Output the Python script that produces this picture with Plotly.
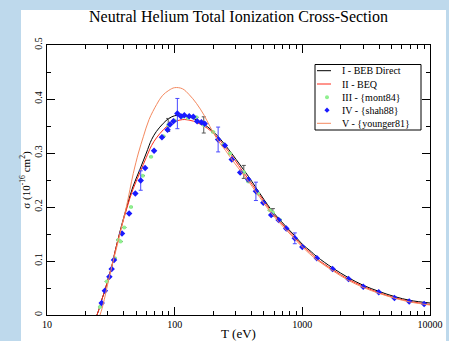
import plotly.graph_objects as go

# ---------------- data ----------------
T_beb = [24.6, 25.5, 27, 28.4, 30, 32, 34.1, 38, 42.5, 47, 53.5, 60, 66, 72, 81.5, 90, 100, 110, 120,
         140, 160, 180, 200, 220, 250, 280, 330, 380, 430, 500, 570, 650, 750, 870, 1000, 1150,
         1300, 1730, 2300, 3000, 4000, 5300, 7000, 10000]
sig_beb = [0.0, 0.01, 0.03, 0.045, 0.066, 0.088, 0.117, 0.162, 0.203, 0.237, 0.27, 0.30, 0.325, 0.34,
           0.355, 0.364, 0.369, 0.370, 0.369, 0.364, 0.357, 0.349, 0.340, 0.330, 0.314, 0.299, 0.276,
           0.256, 0.237, 0.214, 0.195, 0.179, 0.163, 0.147, 0.131, 0.119, 0.108, 0.087, 0.069, 0.055,
           0.0435, 0.034, 0.027, 0.0222]

T_beq = T_beb
sig_beq = [0.0, 0.01, 0.03, 0.045, 0.066, 0.088, 0.117, 0.160, 0.200, 0.232, 0.264, 0.292, 0.314, 0.328,
           0.343, 0.352, 0.358, 0.361, 0.362, 0.359, 0.353, 0.346, 0.337, 0.327, 0.310, 0.295, 0.271,
           0.251, 0.233, 0.211, 0.192, 0.176, 0.160, 0.144, 0.128, 0.116, 0.104, 0.084, 0.066, 0.053,
           0.041, 0.032, 0.025, 0.0195]

T_you = [26, 27, 28.5, 30.2, 33, 36, 39, 42.1, 47.4, 52, 56.8, 63, 72.3, 80, 90, 100, 115, 130, 148,
         170, 189, 220, 250, 271, 330, 380, 430, 500, 570, 650, 750, 870, 1000, 1300, 1730, 2300,
         3000, 4000, 5300, 7000, 10000]
sig_you = [0.0, 0.012, 0.035, 0.062, 0.10, 0.135, 0.17, 0.203, 0.262, 0.300, 0.330, 0.362, 0.390, 0.406,
           0.416, 0.421, 0.419, 0.408, 0.392, 0.370, 0.349, 0.322, 0.305, 0.293, 0.266, 0.247, 0.229,
           0.207, 0.189, 0.173, 0.157, 0.141, 0.126, 0.102, 0.082, 0.064, 0.051, 0.040, 0.031,
           0.024, 0.0185]

T_mont = [26, 29.4, 34, 36.2, 37.7, 40.3, 45.5, 56.2, 65.3, 81.5, 89, 100, 115, 127, 148, 169, 200,
          240, 271, 348, 377, 450, 556, 588, 667]
sig_mont = [0.015, 0.062, 0.105, 0.139, 0.136, 0.162, 0.200, 0.258, 0.293, 0.331, 0.352, 0.360, 0.367,
            0.365, 0.366, 0.352, 0.339, 0.315, 0.299, 0.265, 0.247, 0.225, 0.194, 0.190, 0.176]
err_mont = [0, 0, 0, 0, 0, 0, 0, 0, 0, 0, 0.012, 0, 0, 0, 0, 0.015, 0,
            0, 0, 0.012, 0, 0, 0, 0.007, 0]

T_shah = [26.8, 28.4, 30.8, 32.1, 33.5, 38.7, 44.0, 49.2, 54.2, 58.7, 69, 79.5, 88, 91.8, 97.8, 105,
          112, 119, 130, 140, 150, 162, 172, 219, 247, 280, 326, 377, 433, 495, 570, 652, 748, 873,
          1000, 1300, 1725, 2300, 3000, 3970, 5265, 6870, 8990]
sig_shah = [0.022, 0.045, 0.071, 0.085, 0.102, 0.151, 0.188, 0.225, 0.249, 0.272, 0.304, 0.329, 0.343,
            0.353, 0.359, 0.373, 0.368, 0.370, 0.368, 0.367, 0.359, 0.357, 0.354, 0.325, 0.314, 0.288,
            0.264, 0.251, 0.229, 0.208, 0.185, 0.176, 0.160, 0.142, 0.126, 0.105, 0.085, 0.0666,
            0.0525, 0.042, 0.0315, 0.025, 0.0203]
err_shah = [0, 0, 0, 0, 0, 0, 0, 0, 0.018, 0, 0, 0, 0, 0, 0, 0.028, 0, 0, 0, 0, 0, 0, 0, 0.023, 0,
            0, 0, 0, 0.017, 0, 0, 0, 0, 0.010, 0, 0, 0, 0, 0, 0, 0, 0, 0]

series_names = ["I - BEB Direct", "II - BEQ", "III - {mont84}", "IV - {shah88}", "V - {younger81}"]

x_ticks = [10, 100, 1000, 10000]
x_ticktext = ["10", "100", "1000", "10000"]
y_ticks = [0, 0.1, 0.2, 0.3, 0.4, 0.5]
y_ticktext = ["0", "0.1", "0.2", "0.3", "0.4", "0.5"]

SERIF = "Liberation Serif, Times New Roman, serif"
C_BEB, C_BEQ, C_MONT, C_SHAH, C_YOU = "black", "#ff2a1a", "#8ff08f", "#1a1aff", "#f4895f"

# plot-area geometry in pixels (for the hand-drawn legend box and the backdrop panel)
L, R, T, B = 47, 19, 45, 26
W, H = 449, 341
PW, PH = W - L - R, H - T - B


def px2paper_x(px):
    return (px - L) / PW


def px2paper_y(py):
    return (H - B - py) / PH


fig = go.Figure()

fig.add_trace(go.Scatter(x=T_beb, y=sig_beb, mode="lines", name=series_names[0],
                         line=dict(color=C_BEB, width=1), line_shape="spline"))
fig.add_trace(go.Scatter(x=T_beq, y=sig_beq, mode="lines", name=series_names[1],
                         line=dict(color=C_BEQ, width=1), line_shape="spline"))
fig.add_trace(go.Scatter(x=T_mont, y=sig_mont, mode="markers", name=series_names[2],
                         marker=dict(symbol="circle", size=4, color=C_MONT),
                         error_y=dict(type="data", array=err_mont, color="#555555",
                                      thickness=1, width=2)))
fig.add_trace(go.Scatter(x=T_shah, y=sig_shah, mode="markers", name=series_names[3],
                         marker=dict(symbol="diamond", size=5, color=C_SHAH),
                         error_y=dict(type="data", array=err_shah, color="#4a4aff",
                                      thickness=1, width=2)))
fig.add_trace(go.Scatter(x=T_you, y=sig_you, mode="lines", name=series_names[4],
                         line=dict(color=C_YOU, width=1), line_shape="spline"))

# ---- compact legend (drawn with shapes + annotations, like the reference) ----
shapes = [dict(type="rect", xref="paper", yref="paper",
               x0=px2paper_x(21), x1=px2paper_x(446),
               y0=px2paper_y(345), y1=px2paper_y(10),
               fillcolor="white", line=dict(width=0), layer="below"),
          dict(type="rect", xref="paper", yref="paper",
               x0=px2paper_x(315), x1=px2paper_x(421),
               y0=px2paper_y(130), y1=px2paper_y(64.5),
               fillcolor="white", line=dict(color="black", width=1))]
annotations = []
row_y = [70.7, 84, 97.2, 110.2, 123.3]
kinds = ["line", "line", "circle", "diamond", "line"]
cols = [C_BEB, C_BEQ, C_MONT, C_SHAH, C_YOU]
for name, yy, kind, col in zip(series_names, row_y, kinds, cols):
    if kind == "line":
        shapes.append(dict(type="line", xref="paper", yref="paper",
                           x0=px2paper_x(317), x1=px2paper_x(331),
                           y0=px2paper_y(yy), y1=px2paper_y(yy),
                           line=dict(color=col, width=1)))
    elif kind == "circle":
        shapes.append(dict(type="circle", xref="paper", yref="paper",
                           x0=px2paper_x(325), x1=px2paper_x(329),
                           y0=px2paper_y(yy + 2), y1=px2paper_y(yy - 2),
                           fillcolor=col, line=dict(width=0)))
    else:
        cx, cy, d = 327, yy, 2.6
        path = "M {} {} L {} {} L {} {} L {} {} Z".format(
            px2paper_x(cx), px2paper_y(cy - d), px2paper_x(cx + d), px2paper_y(cy),
            px2paper_x(cx), px2paper_y(cy + d), px2paper_x(cx - d), px2paper_y(cy))
        shapes.append(dict(type="path", xref="paper", yref="paper", path=path,
                           fillcolor=col, line=dict(width=0)))
    annotations.append(dict(text=name, xref="paper", yref="paper",
                            x=px2paper_x(340), y=px2paper_y(yy),
                            xanchor="left", yanchor="middle", showarrow=False,
                            font=dict(family=SERIF, size=10, color="black")))

fig.update_layout(
    width=W, height=H,
    margin=dict(l=L, r=R, t=T, b=B, autoexpand=False),
    paper_bgcolor="#bed9ec",
    plot_bgcolor="white",
    font=dict(family=SERIF, color="black", size=10),
    title=dict(text="Neutral Helium Total Ionization Cross-Section",
               font=dict(family=SERIF, size=16, color="black"),
               x=0.5, xref="paper", xanchor="center",
               y=1 - 16 / H, yref="container", yanchor="middle"),
    showlegend=False,
    shapes=shapes,
    annotations=annotations,
)

minor_x = [m * d for d in (10, 100, 1000) for m in range(2, 10)]

fig.update_xaxes(
    type="log", range=[1, 4], automargin=False,
    tickvals=x_ticks, ticktext=x_ticktext,
    ticks="inside", ticklen=8, tickcolor="black", tickwidth=1,
    minor=dict(ticks="inside", ticklen=4, tickvals=minor_x, tickcolor="black", showgrid=False),
    showline=True, linecolor="black", linewidth=1, mirror="allticks",
    showgrid=False, zeroline=False,
    tickfont=dict(family=SERIF, size=10),
    title=dict(text="T (eV)", font=dict(family=SERIF, size=13), standoff=0),
)
fig.update_yaxes(
    range=[0, 0.5], automargin=False,
    tickvals=y_ticks, ticktext=y_ticktext, tickangle=-90,
    ticks="inside", ticklen=8, tickcolor="black", tickwidth=1,
    minor=dict(ticks="inside", ticklen=4, dtick=0.05, tickcolor="black", showgrid=False),
    showline=True, linecolor="black", linewidth=1, mirror="allticks",
    showgrid=False, zeroline=False,
    tickfont=dict(family=SERIF, size=10),
    title=dict(text="σ (10<sup>-16</sup> cm<sup>2</sup>)", font=dict(family=SERIF, size=11),
               standoff=0),
)

fig.write_html("out.html")
